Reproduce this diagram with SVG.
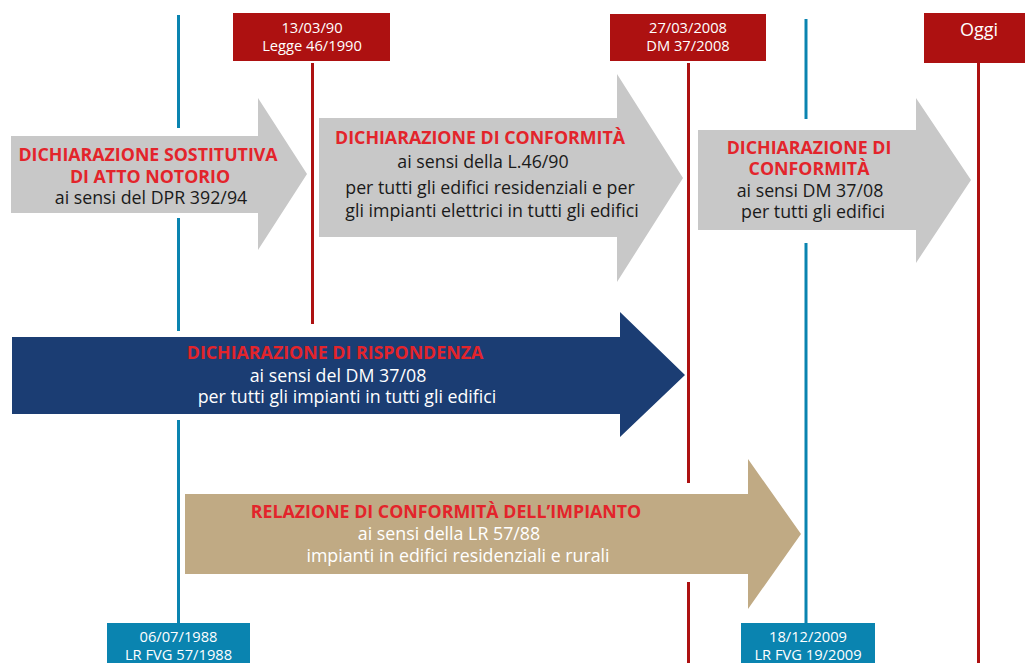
<svg xmlns="http://www.w3.org/2000/svg" width="1025" height="663" viewBox="0 0 1025 663">
<style>
.bl{stroke:#0a84b0;stroke-width:3;fill:none}
.rl{stroke:#ad1111;stroke-width:3;fill:none}
.rbox{fill:#ad1111}
.bbox{fill:#0a84b0}
.gray{fill:#c8c8c8}
.t{font-family:"Open Sans","Liberation Sans",sans-serif;text-anchor:middle}
.h{font-weight:bold;fill:#e3242b;font-size:17.8px}
.d{fill:#1a1a1a;font-size:17.8px}
.w{fill:#ffffff;font-size:17.8px}
.lab{fill:#ffffff;font-size:14.7px}
</style>
<rect width="1025" height="663" fill="#ffffff"/>
<g id="connectors">
<line class="bl" x1="178.5" y1="15" x2="178.5" y2="128"/>
<line class="bl" x1="178.5" y1="218" x2="178.5" y2="331"/>
<line class="bl" x1="178.5" y1="420" x2="178.5" y2="623"/>
<line class="bl" x1="806" y1="19" x2="806" y2="119"/>
<line class="bl" x1="806" y1="243" x2="806" y2="623"/>
<line class="rl" x1="312.5" y1="63" x2="312.5" y2="324"/>
<line class="rl" x1="688.5" y1="63" x2="688.5" y2="483"/>
<line class="rl" x1="688.5" y1="582" x2="688.5" y2="663"/>
<line class="rl" x1="978.5" y1="63" x2="978.5" y2="663"/>
</g>
<g id="date-1990">
<rect class="rbox" x="233" y="13" width="157" height="48"/>
<text class="t lab" x="312" y="33">13/03/90</text>
<text class="t lab" x="312" y="51">Legge 46/1990</text>
</g>
<g id="date-2008">
<rect class="rbox" x="610" y="14" width="156" height="47"/>
<text class="t lab" x="688" y="33">27/03/2008</text>
<text class="t lab" x="688" y="51">DM 37/2008</text>
</g>
<g id="date-oggi">
<rect class="rbox" x="924" y="13" width="101" height="50"/>
<text class="t w" x="979" y="36" style="font-size:18px">Oggi</text>
</g>
<g id="date-1988">
<rect class="bbox" x="107" y="623" width="143" height="40"/>
<text class="t lab" x="178.5" y="642">06/07/1988</text>
<text class="t lab" x="178.5" y="660">LR FVG 57/1988</text>
</g>
<g id="date-2009">
<rect class="bbox" x="741" y="623" width="134" height="40"/>
<text class="t lab" x="808" y="642">18/12/2009</text>
<text class="t lab" x="808" y="660">LR FVG 19/2009</text>
</g>
<g id="arrow-sostitutiva">
<polygon class="gray" points="11,136 258,136 258,98 307,174 258,250 258,213 11,213"/>
<text class="t h" x="148" y="161">DICHIARAZIONE SOSTITUTIVA</text>
<text class="t h" x="150" y="183">DI ATTO NOTORIO</text>
<text class="t d" x="151" y="204">ai sensi del DPR 392/94</text>
</g>
<g id="arrow-conformita-1990">
<polygon class="gray" points="319,118 617,118 617,74 683,178 617,282 617,237 319,237"/>
<text class="t h" x="480" y="144">DICHIARAZIONE DI CONFORMITÀ</text>
<text class="t d" x="483" y="168">ai sensi della L.46/90</text>
<text class="t d" x="490" y="194">per tutti gli edifici residenziali e per</text>
<text class="t d" x="492" y="217">gli impianti elettrici in tutti gli edifici</text>
</g>
<g id="arrow-conformita-2008">
<polygon class="gray" points="698,130 916,130 916,98 971,180 916,263 916,230 698,230"/>
<text class="t h" x="809" y="154">DICHIARAZIONE DI</text>
<text class="t h" x="809" y="175">CONFORMITÀ</text>
<text class="t d" x="810" y="197">ai sensi DM 37/08</text>
<text class="t d" x="813" y="218">per tutti gli edifici</text>
</g>
<g id="arrow-rispondenza">
<polygon fill="#1b3d73" points="12,337 620,337 620,312 685,375 620,437 620,414 12,414"/>
<text class="t h" x="335" y="359">DICHIARAZIONE DI RISPONDENZA</text>
<text class="t w" x="338" y="382">ai sensi del DM 37/08</text>
<text class="t w" x="347" y="403">per tutti gli impianti in tutti gli edifici</text>
</g>
<g id="arrow-relazione">
<polygon fill="#c0aa84" points="185,494 748,494 748,459 801,534 748,609 748,574 185,574"/>
<text class="t h" x="446" y="518">RELAZIONE DI CONFORMITÀ DELL’IMPIANTO</text>
<text class="t w" x="449" y="540">ai sensi della LR 57/88</text>
<text class="t w" x="458" y="562">impianti in edifici residenziali e rurali</text>
</g>
</svg>
